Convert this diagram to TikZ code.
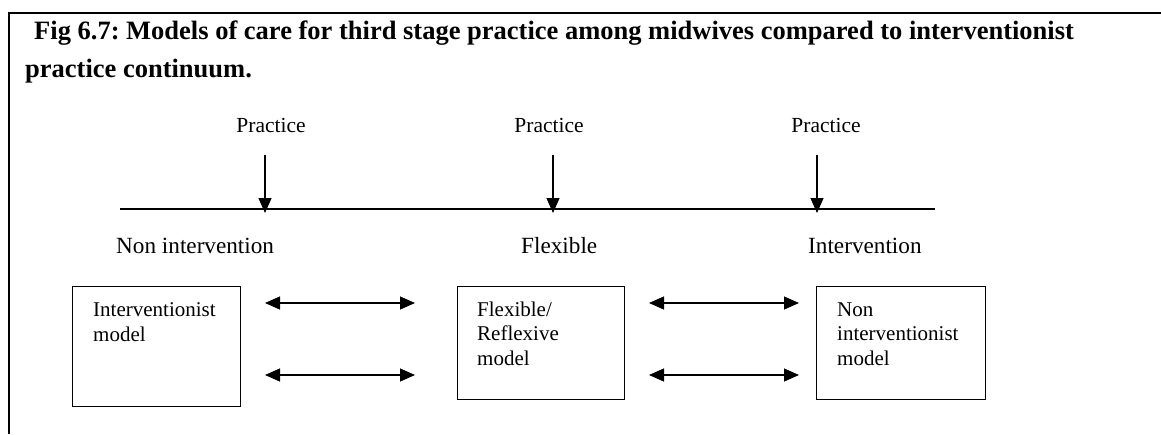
\documentclass[tikz,border=0pt]{standalone}
\usepackage{fontspec}
\setmainfont{Liberation Serif}
\usetikzlibrary{arrows.meta}
\frenchspacing
\begin{document}
\begin{tikzpicture}[x=1pt,y=-1pt,
  frame/.style={line width=2pt},
  titletext/.style={font=\fontsize{26.5}{38}\selectfont\bfseries, inner sep=0pt, align=left, anchor=base west},
  practext/.style={font=\fontsize{21.5}{24}\selectfont, inner sep=0pt, anchor=base},
  labeltext/.style={font=\fontsize{23.2}{28}\selectfont, inner sep=0pt, anchor=base west},
  modelbox/.style={draw, line width=1.3pt, anchor=north west, inner sep=0pt},
  boxtext/.style={font=\fontsize{21}{24.5}\selectfont, inner sep=0pt, align=left, anchor=base west},
  tip/.style={-{Triangle[length=15pt,width=13pt]}, line width=1.3pt},
  dtip/.style={{Triangle[length=15pt,width=13pt]}-{Triangle[length=15pt,width=13pt]}, line width=1.3pt},
  scale line/.style={line width=1.1pt}
]
\useasboundingbox (0,0) rectangle (1161,434);
% frame
\draw[frame] (9,434) -- (9,12.7) -- (1161,12.7);
% title (anchor at baseline of its last line)
\node[titletext] (title) at (25,77) {\hspace*{9pt}Fig 6.7: Models of care for third stage practice among midwives compared to interventionist\\practice continuum.};
% practice labels
\node[practext] (p1) at (271,132) {Practice};
\node[practext] (p2) at (549,132) {Practice};
\node[practext] (p3) at (826,132) {Practice};
% continuum line
\coordinate (ls) at (120,209);
\coordinate (le) at (935,209);
\draw[scale line] (ls) -- (le);
% practice arrows
\coordinate (v1s) at (265,155); \coordinate (v1e) at (265,213);
\coordinate (v2s) at (553,155); \coordinate (v2e) at (553,213);
\coordinate (v3s) at (817,155); \coordinate (v3e) at (817,213);
\draw[tip] (v1s) -- (v1e);
\draw[tip] (v2s) -- (v2e);
\draw[tip] (v3s) -- (v3e);
% continuum labels
\node[labeltext] (l1) at (116,253) {Non intervention};
\node[labeltext] (l2) at (521,253) {Flexible};
\node[labeltext] (l3) at (808,253) {Intervention};
% boxes
\node[modelbox, minimum width=168pt, minimum height=120pt] (b1) at (72,286) {};
\node[modelbox, minimum width=167pt, minimum height=113pt] (b2) at (457,286) {};
\node[modelbox, minimum width=169pt, minimum height=113pt] (b3) at (816,286) {};
% box texts (anchored at baseline of last line)
\node[boxtext] (t1) at (93,341) {Interventionist\\model};
\node[boxtext] (t2) at (477,365) {Flexible/\\Reflexive\\model};
\node[boxtext] (t3) at (837,365) {Non\\interventionist\\model};
% double arrows
\coordinate (a1s) at (265,303); \coordinate (a1e) at (415,303);
\coordinate (a2s) at (265,375); \coordinate (a2e) at (415,375);
\coordinate (a3s) at (649,303); \coordinate (a3e) at (799,303);
\coordinate (a4s) at (649,375); \coordinate (a4e) at (799,375);
\draw[dtip] (a1s) -- (a1e);
\draw[dtip] (a2s) -- (a2e);
\draw[dtip] (a3s) -- (a3e);
\draw[dtip] (a4s) -- (a4e);
\end{tikzpicture}
\end{document}
